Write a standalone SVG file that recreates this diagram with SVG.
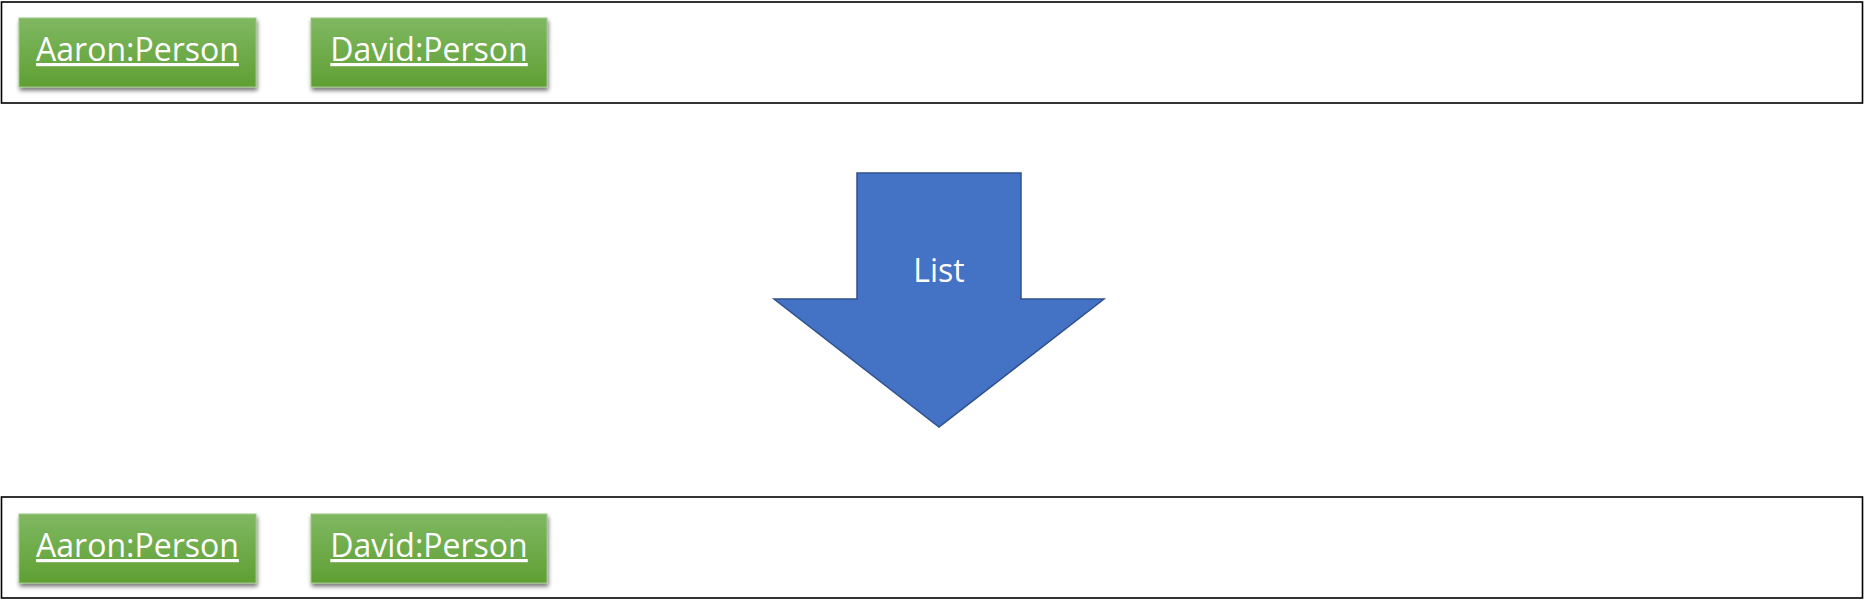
<svg xmlns="http://www.w3.org/2000/svg" width="1864" height="600" viewBox="0 0 1864 600">
  <defs>
    <linearGradient id="green" x1="0" y1="0" x2="0" y2="1">
      <stop offset="0" stop-color="#80b862"/>
      <stop offset="1" stop-color="#5f9f33"/>
    </linearGradient>
    <filter id="shadow" x="-10%" y="-10%" width="125%" height="140%">
      <feGaussianBlur in="SourceAlpha" stdDeviation="2"/>
      <feOffset dx="1" dy="3" result="b"/>
      <feComponentTransfer><feFuncA type="linear" slope="0.55"/></feComponentTransfer>
      <feMerge><feMergeNode/><feMergeNode in="SourceGraphic"/></feMerge>
    </filter>
  </defs>
  <style>
    .frame { fill: #ffffff; stroke: #000000; stroke-width: 1.6; }
    .obj { fill: url(#green); stroke: #9cc985; stroke-width: 1; filter: url(#shadow); }
    .lbl { font-family: "Open Sans", "Noto Sans", sans-serif; font-size: 32px; fill: #ffffff; text-anchor: middle; text-decoration: underline; }
    .arrow { fill: #4472c4; stroke: #2f528f; stroke-width: 1.5; stroke-linejoin: miter; }
    .alabel { font-family: "Open Sans", "Noto Sans", sans-serif; font-size: 32px; fill: #ffffff; text-anchor: middle; }
  </style>
  <rect width="1864" height="600" fill="#ffffff"/>

  <g id="before">
    <rect class="frame" x="1.5" y="2" width="1861" height="101"/>
    <g id="aaron-before">
      <rect class="obj" x="19" y="18" width="237" height="69"/>
      <text class="lbl" x="137.5" y="61">Aaron:Person</text>
    </g>
    <g id="david-before">
      <rect class="obj" x="311" y="18" width="236" height="69"/>
      <text class="lbl" x="429" y="61">David:Person</text>
    </g>
  </g>

  <g id="connectors">
    <g id="list-arrow">
      <polygon class="arrow" points="857,173 1021,173 1021,299 1104,299 939,427 774,299 857,299"/>
      <text class="alabel" x="939" y="282">List</text>
    </g>
  </g>

  <g id="after">
    <rect class="frame" x="1.5" y="497" width="1861" height="101"/>
    <g id="aaron-after">
      <rect class="obj" x="19" y="514" width="237" height="69"/>
      <text class="lbl" x="137.5" y="557">Aaron:Person</text>
    </g>
    <g id="david-after">
      <rect class="obj" x="311" y="514" width="236" height="69"/>
      <text class="lbl" x="429" y="557">David:Person</text>
    </g>
  </g>
</svg>
